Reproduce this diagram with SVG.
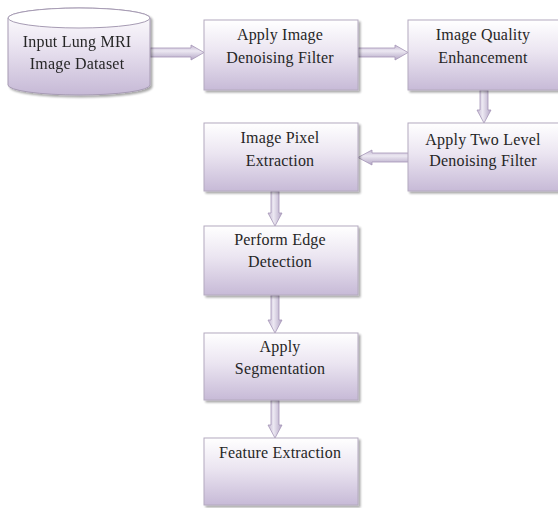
<svg xmlns="http://www.w3.org/2000/svg" width="558" height="508" viewBox="0 0 558 508">
<defs>
<linearGradient id="gBox" x1="0" y1="0" x2="0" y2="1">
<stop offset="0" stop-color="#ffffff"/>
<stop offset="0.45" stop-color="#ebe5f1"/>
<stop offset="1" stop-color="#c7bad7"/>
</linearGradient>
<linearGradient id="gCyl" x1="0" y1="0" x2="0" y2="1">
<stop offset="0" stop-color="#ffffff"/>
<stop offset="0.4" stop-color="#ece6f2"/>
<stop offset="1" stop-color="#c6b9d6"/>
</linearGradient>
<linearGradient id="gArrH" x1="0" y1="0" x2="0" y2="1">
<stop offset="0" stop-color="#c4b8d2"/>
<stop offset="0.4" stop-color="#ece8f2"/>
<stop offset="1" stop-color="#b3a5c5"/>
</linearGradient>
<linearGradient id="gArrV" x1="0" y1="0" x2="1" y2="0">
<stop offset="0" stop-color="#c4b8d2"/>
<stop offset="0.4" stop-color="#ece8f2"/>
<stop offset="1" stop-color="#b3a5c5"/>
</linearGradient>
<filter id="sh" x="-10%" y="-10%" width="130%" height="130%">
<feGaussianBlur in="SourceAlpha" stdDeviation="1.2"/>
<feOffset dx="1.5" dy="2" result="b"/>
<feComponentTransfer><feFuncA type="linear" slope="0.35"/></feComponentTransfer>
<feMerge><feMergeNode/><feMergeNode in="SourceGraphic"/></feMerge>
</filter>
</defs>
<style>
.box{fill:url(#gBox);stroke:#b4aabf;stroke-width:1;filter:url(#sh)}
.cyl{fill:url(#gCyl);stroke:#a69bb3;stroke-width:1}
.ah{fill:url(#gArrH);stroke:#a496b6;stroke-width:0.8}
.av{fill:url(#gArrV);stroke:#a496b6;stroke-width:0.8}
.t{font-size:16px;fill:#262626;text-anchor:middle;letter-spacing:0.2px}
</style>
<rect width="558" height="508" fill="#ffffff"/>

<g id="connectors">
<path class="ah" d="M150,48 L191,48 L191,45 L204,52.5 L191,60 L191,57 L150,57 Z"/>
<path class="ah" d="M358,48 L395,48 L395,45 L408,52.5 L395,60 L395,57 L358,57 Z"/>
<path class="av" d="M480,90 L480,110 L477,110 L484,123 L491,110 L488,110 L488,90 Z"/>
<path class="ah" d="M410,153 L372,153 L372,150 L358,157.5 L372,165 L372,162 L410,162 Z"/>
<path class="av" d="M271,191 L271,213 L268,213 L275,226 L282,213 L279,213 L279,191 Z"/>
<path class="av" d="M271,295 L271,320 L268,320 L275,333 L282,320 L279,320 L279,295 Z"/>
<path class="av" d="M271,400 L271,425 L268,425 L275,438 L282,425 L279,425 L279,400 Z"/>
</g>

<g font-family="'Liberation Serif', 'Times New Roman', 'DejaVu Serif', serif">
<g id="n_input" filter="url(#sh)">
<path class="cyl" d="M8,18 L8,85 A71,10 0 0 0 150,85 L150,18 A71,10 0 0 0 8,18 Z"/>
<ellipse class="cyl" cx="79" cy="18" rx="71" ry="10" style="fill:#ffffff"/>
<text class="t" x="77" y="47">Input Lung MRI</text>
<text class="t" x="77" y="69">Image Dataset</text>
</g>

<g id="n_denoise">
<rect class="box" x="204" y="20" width="154" height="70"/>
<text class="t" x="280" y="40">Apply Image</text>
<text class="t" x="280" y="63">Denoising Filter</text>
</g>

<g id="n_quality">
<rect class="box" x="408" y="20" width="154" height="70"/>
<text class="t" x="483" y="40">Image Quality</text>
<text class="t" x="483" y="63">Enhancement</text>
</g>

<g id="n_twolevel">
<rect class="box" x="408" y="123" width="154" height="68"/>
<text class="t" x="483" y="145">Apply Two Level</text>
<text class="t" x="483" y="166">Denoising Filter</text>
</g>

<g id="n_pixel">
<rect class="box" x="204" y="123" width="154" height="68"/>
<text class="t" x="280" y="143">Image Pixel</text>
<text class="t" x="280" y="166">Extraction</text>
</g>

<g id="n_edge">
<rect class="box" x="204" y="226" width="154" height="69"/>
<text class="t" x="280" y="245">Perform Edge</text>
<text class="t" x="280" y="267">Detection</text>
</g>

<g id="n_seg">
<rect class="box" x="204" y="333" width="154" height="67"/>
<text class="t" x="280" y="352">Apply</text>
<text class="t" x="280" y="374">Segmentation</text>
</g>

<g id="n_feature">
<rect class="box" x="204" y="438" width="154" height="67"/>
<text class="t" x="280" y="458">Feature Extraction</text>
</g>
</g>
</svg>
